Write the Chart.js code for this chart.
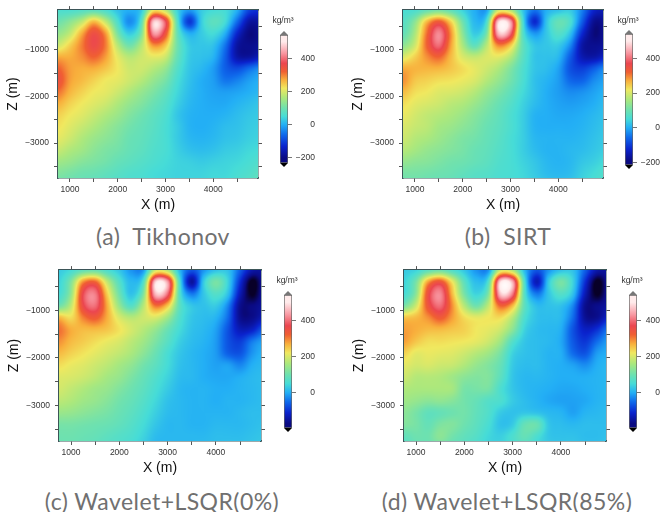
<!DOCTYPE html>
<html>
<head>
<meta charset="utf-8">
<title>Density inversion comparison</title>
<script src="https://cdn.jsdelivr.net/npm/chart.js@4/dist/chart.umd.min.js"></script>
<style>
    html, body { margin: 0; padding: 0; background: #fff; }
    body { position: relative; width: 664px; height: 512px; overflow: hidden; font-family: "Liberation Sans", sans-serif; }
    canvas { position: absolute; filter: blur(0.35px); }
    .caption { position: absolute; width: 300px; text-align: center; font-family: Lato, sans-serif; font-size: 23px; color: #707070; letter-spacing: 0.45px; line-height: 28px; }
    .unit { position: absolute; width: 40px; text-align: center; font-size: 8.5px; color: #333; line-height: 10px; }
</style>
</head>
<body>
<script>
// Grid nodes of the density sections (m)
const xNodes = [750, 1000, 1250, 1500, 1750, 2000, 2250, 2500, 2750, 3000, 3250, 3500, 3750, 4000, 4250, 4500, 4750, 5000];
const zNodes = [-150, -400, -650, -900, -1150, -1400, -1650, -1900, -2150, -2400, -2650, -2900, -3150, -3400, -3650, -3900];

const xTicks = [1000, 1500, 2000, 2500, 3000, 3500, 4000, 4500];
const zTicks = [-500, -1000, -1500, -2000, -2500, -3000, -3500];
const xLabels = [1000, 2000, 3000, 4000];
const zLabels = [-1000, -2000, -3000];

// Density, one row per depth (kg/m3)
const tikhonov = [
    [60, 60, 70, 80, 60, 20, 0, 30, 220, 180, 40, -20, 30, 50, 50, 0, -100, -120],
    [100, 130, 180, 260, 180, 60, -30, 80, 470, 380, 70, -110, 30, 80, 50, -60, -170, -170],
    [140, 180, 270, 350, 280, 110, 30, 120, 430, 340, 90, 0, 30, 50, 0, -130, -200, -185],
    [190, 240, 300, 360, 300, 170, 100, 170, 290, 250, 100, 30, 25, 20, -50, -170, -190, -180],
    [270, 270, 290, 320, 280, 210, 170, 190, 210, 190, 90, 30, 20, 5, -70, -165, -175, -145],
    [320, 280, 270, 270, 250, 220, 190, 190, 170, 140, 70, 25, 10, -15, -70, -90, -60, -30],
    [345, 280, 260, 240, 220, 210, 190, 170, 140, 110, 55, 20, 0, -15, -50, -40, -15, 0],
    [310, 265, 240, 220, 210, 190, 165, 140, 115, 85, 45, 15, 0, -10, -15, -10, 0, 10],
    [270, 240, 220, 205, 190, 165, 140, 120, 95, 70, 35, 10, 0, -5, -5, 5, 15, 25],
    [240, 220, 205, 185, 165, 145, 120, 100, 80, 60, 25, 5, 0, 0, 5, 15, 25, 30],
    [225, 205, 185, 165, 145, 125, 105, 90, 75, 55, 30, 5, 0, 5, 15, 20, 30, 35],
    [210, 190, 165, 145, 130, 115, 95, 85, 70, 55, 30, 10, 5, 10, 20, 25, 35, 40],
    [185, 165, 150, 130, 115, 105, 90, 80, 65, 55, 35, 20, 15, 20, 30, 35, 45, 50],
    [150, 140, 125, 115, 105, 90, 80, 70, 60, 50, 40, 35, 30, 35, 40, 45, 55, 65],
    [120, 110, 100, 95, 85, 75, 65, 60, 50, 45, 40, 40, 40, 45, 45, 55, 65, 80],
    [100, 95, 90, 80, 75, 65, 60, 55, 50, 45, 40, 40, 40, 45, 50, 60, 75, 90]
];
const sirt = [
    [55, 60, 90, 110, 85, 40, 0, -10, 190, 170, 30, -50, 0, 20, 30, -40, -130, -150],
    [70, 130, 260, 330, 240, 100, 10, 60, 480, 440, 70, -120, 20, 90, 60, -70, -180, -175],
    [85, 160, 310, 420, 290, 130, 30, 110, 460, 400, 80, -20, 25, 70, 20, -120, -195, -175],
    [130, 190, 320, 400, 280, 160, 80, 170, 300, 250, 90, 25, 25, 30, -30, -160, -180, -170],
    [200, 240, 290, 320, 260, 200, 180, 200, 210, 170, 80, 25, 20, 10, -70, -150, -160, -130],
    [270, 265, 265, 265, 250, 230, 210, 190, 165, 120, 65, 25, 15, -10, -80, -100, -70, -30],
    [290, 250, 240, 230, 225, 215, 200, 170, 140, 105, 60, 20, 5, -15, -60, -65, -30, -10],
    [260, 230, 220, 205, 200, 190, 170, 140, 115, 85, 50, 20, 0, -15, -30, -25, -10, 5],
    [230, 210, 200, 190, 175, 165, 145, 120, 95, 70, 40, 15, 0, -10, -15, -10, 0, 15],
    [215, 195, 180, 170, 160, 145, 125, 105, 85, 60, 35, 5, 0, -5, -5, 0, 10, 20],
    [200, 185, 175, 155, 145, 130, 115, 95, 80, 60, 35, 5, 0, 0, 0, 5, 15, 25],
    [190, 170, 160, 145, 130, 115, 105, 90, 75, 55, 35, 10, 5, 5, 5, 10, 20, 30],
    [170, 155, 140, 130, 120, 110, 95, 85, 70, 55, 35, 15, 5, 5, 10, 15, 25, 35],
    [140, 130, 125, 115, 105, 100, 90, 80, 65, 55, 40, 25, 10, 5, 10, 25, 35, 50],
    [110, 110, 105, 100, 95, 85, 75, 70, 60, 55, 45, 30, 15, 10, 15, 35, 50, 65],
    [100, 100, 95, 90, 85, 75, 70, 65, 55, 50, 45, 35, 25, 20, 25, 40, 55, 70]
];
const waveletFull = [
    [30, 50, 85, 95, 60, 25, -20, -15, 190, 170, 10, -70, -20, 20, 20, -60, -140, -150],
    [40, 120, 290, 320, 180, 70, 10, 70, 480, 440, 60, -150, 30, 110, 40, -100, -212, -150],
    [50, 140, 370, 410, 240, 100, 20, 120, 460, 400, 70, -40, 25, 70, 20, -130, -208, -150],
    [100, 180, 360, 400, 270, 140, 70, 170, 310, 250, 80, 25, 20, 30, -30, -160, -170, -150],
    [260, 230, 300, 330, 270, 200, 170, 190, 200, 150, 65, 25, 15, 5, -50, -160, -165, -130],
    [310, 270, 260, 260, 250, 225, 195, 170, 140, 95, 50, 20, 10, -10, -70, -130, -120, -60],
    [290, 260, 245, 230, 215, 200, 175, 150, 115, 75, 35, 15, 5, -15, -70, -90, -40, -10],
    [260, 240, 225, 210, 195, 180, 160, 130, 95, 55, 25, 10, 0, -15, -60, -70, -20, 5],
    [230, 215, 205, 190, 175, 155, 135, 105, 80, 50, 20, 10, 0, -10, -10, -30, 0, 10],
    [205, 200, 190, 175, 155, 140, 115, 90, 65, 40, 15, 10, 0, -5, -5, 0, 10, 15],
    [195, 180, 165, 150, 140, 120, 100, 80, 55, 30, 10, 5, 5, 0, 0, 5, 10, 15],
    [175, 165, 150, 140, 125, 105, 90, 70, 45, 20, 10, 5, 5, 0, 5, 5, 10, 15],
    [145, 140, 130, 120, 110, 95, 80, 60, 35, 15, 10, 5, 5, 5, 5, 10, 15, 15],
    [110, 110, 105, 100, 95, 85, 70, 50, 25, 10, 10, 5, 5, 10, 10, 10, 15, 20],
    [100, 100, 95, 90, 80, 70, 60, 40, 15, 10, 10, 10, 10, 15, 15, 15, 20, 25],
    [95, 95, 90, 80, 70, 65, 50, 30, 10, 10, 10, 10, 15, 15, 20, 20, 25, 30]
];
const waveletSparse = [
    [30, 40, 80, 100, 65, 25, -20, -20, 190, 170, 10, -70, -20, 20, 20, -60, -140, -150],
    [40, 110, 280, 340, 220, 80, 15, 70, 490, 450, 60, -130, 30, 110, 40, -100, -212, -150],
    [50, 130, 350, 420, 260, 110, 40, 120, 470, 410, 70, -40, 25, 70, 20, -130, -208, -150],
    [110, 190, 340, 400, 290, 170, 100, 180, 320, 260, 80, 15, 20, 20, -30, -160, -165, -145],
    [250, 260, 290, 330, 280, 230, 210, 220, 230, 170, 60, 20, 15, 10, -50, -155, -160, -110],
    [280, 270, 260, 260, 250, 240, 220, 210, 190, 130, 40, 15, 10, 0, -70, -120, -100, -40],
    [280, 250, 230, 230, 225, 220, 210, 190, 150, 70, 25, 15, 10, -5, -65, -95, -50, -10],
    [240, 210, 215, 210, 205, 190, 170, 150, 110, 40, 20, 15, 5, 0, -50, -70, -15, 0],
    [210, 195, 200, 190, 185, 165, 140, 120, 90, 30, 15, 15, 5, 0, -10, -25, 0, 10],
    [190, 170, 170, 165, 150, 130, 120, 120, 80, 25, 10, 10, 5, 0, 0, 0, 5, 10],
    [165, 160, 160, 160, 155, 110, 110, 110, 60, 25, 10, 5, 0, -5, -5, 0, 5, 10],
    [150, 140, 130, 135, 125, 105, 90, 70, 60, 30, 15, 5, -5, -10, -10, -5, 5, 10],
    [130, 110, 85, 90, 100, 105, 85, 65, 30, 20, 25, 20, 10, 5, -10, 5, 10, 15],
    [120, 110, 90, 115, 120, 100, 80, 55, 20, 30, 90, 95, 25, 15, 10, 15, 15, 15],
    [85, 100, 100, 130, 105, 85, 70, 45, 35, 60, 90, 60, 25, 20, 20, 15, 15, 20],
    [70, 90, 90, 100, 85, 75, 55, 40, 40, 50, 60, 40, 30, 25, 25, 20, 20, 25]
];

// Colour scale, value then rgb
const scaleValues = [-240, -200, -130, -60, 0, 50, 100, 160, 220, 270, 320, 370, 430, 500, 560];
const scaleColors = [
    [8, 0, 40], [10, 10, 130], [10, 35, 205], [15, 105, 235], [35, 175, 245], [70, 220, 215], [110, 225, 175],
    [170, 232, 125], [240, 232, 95], [248, 175, 60], [240, 95, 50], [235, 70, 80], [248, 150, 160], [255, 235, 235], [255, 255, 255]
];

const panels = [
    { name: 'Tikhonov', grid: tikhonov, left: 0, top: 0, plotW: 200, plotH: 170, low: -240, caption: '(a)  Tikhonov', captionX: 163, captionY: 236,
      barLeft: 280, barTop: 32, barH: 134, barMax: 540, barMin: -230, barTicks: [-200, 0, 200, 400], labelW: 27, unitX: 283, unitY: 20 },
    { name: 'SIRT', grid: sirt, left: 345, top: 0, plotW: 200, plotH: 170, low: -230, caption: '(b)  SIRT', captionX: 508, captionY: 236,
      barLeft: 625, barTop: 31, barH: 137, barMax: 540, barMin: -215, barTicks: [-200, 0, 200, 400], labelW: 27, unitX: 628, unitY: 20 },
    { name: 'Wavelet+LSQR(0%)', grid: waveletFull, left: 1, top: 260, plotW: 202, plotH: 173, low: -205, caption: '(c) Wavelet+LSQR(0%)', captionX: 162, captionY: 501,
      barLeft: 284, barTop: 292, barH: 139, barMax: 540, barMin: -195, barTicks: [0, 200, 400], labelW: 23, unitX: 287, unitY: 280 },
    { name: 'Wavelet+LSQR(85%)', grid: waveletSparse, left: 346, top: 260, plotW: 202, plotH: 173, low: -205, caption: '(d) Wavelet+LSQR(85%)', captionX: 507, captionY: 501,
      barLeft: 629, barTop: 292, barH: 139, barMax: 540, barMin: -195, barTicks: [0, 200, 400], labelW: 23, unitX: 632, unitY: 280 }
];

const frameColor = '#3b5558';
const textColor = '#333333';

function colorFor(value, low) {
    const v = value < 0 ? value * (-240 / low) : value;
    if (v <= scaleValues[0]) return scaleColors[0];
    for (let i = 1; i < scaleValues.length; i++) {
        if (v <= scaleValues[i]) {
            const t = (v - scaleValues[i - 1]) / (scaleValues[i] - scaleValues[i - 1]);
            const a = scaleColors[i - 1], b = scaleColors[i];
            return [a[0] + (b[0] - a[0]) * t, a[1] + (b[1] - a[1]) * t, a[2] + (b[2] - a[2]) * t];
        }
    }
    return scaleColors[scaleColors.length - 1];
}

// Catmull-Rom weights, used to shade between the grid nodes
function cubic(p0, p1, p2, p3, t) {
    return p1 + 0.5 * t * (p2 - p0 + t * (2 * p0 - 5 * p1 + 4 * p2 - p3 + t * (3 * (p1 - p2) + p3 - p0)));
}

function sampleGrid(grid, x, z) {
    const fx = (x - xNodes[0]) / (xNodes[1] - xNodes[0]);
    const fz = (zNodes[0] - z) / (zNodes[0] - zNodes[1]);
    const ix = Math.floor(fx), iz = Math.floor(fz);
    const row = (r) => {
        const line = grid[Math.max(0, Math.min(zNodes.length - 1, r))];
        const at = (c) => line[Math.max(0, Math.min(xNodes.length - 1, c))];
        return cubic(at(ix - 1), at(ix), at(ix + 1), at(ix + 2), fx - ix);
    };
    return cubic(row(iz - 1), row(iz), row(iz + 1), row(iz + 2), fz - iz);
}

// Paints the density grid behind the axes, pixel by pixel through the chart scales
const sectionPlugin = {
    id: 'section',
    beforeDatasetsDraw(chart) {
        const { ctx, chartArea, scales } = chart;
        const { grid, low } = chart.options.plugins.section;
        const left = Math.round(chartArea.left), top = Math.round(chartArea.top);
        const w = Math.round(chartArea.width), h = Math.round(chartArea.height);
        const img = ctx.createImageData(w, h);
        for (let py = 0; py < h; py++) {
            const z = scales.y.getValueForPixel(top + py + 0.5);
            for (let px = 0; px < w; px++) {
                const x = scales.x.getValueForPixel(left + px + 0.5);
                const c = colorFor(sampleGrid(grid, x, z), low);
                const i = (py * w + px) * 4;
                img.data[i] = c[0];
                img.data[i + 1] = c[1];
                img.data[i + 2] = c[2];
                img.data[i + 3] = 255;
            }
        }
        ctx.putImageData(img, left, top);
    }
};

// Arrow caps at both ends of the colour bar
const capsPlugin = {
    id: 'caps',
    afterDraw(chart) {
        const { ctx, chartArea } = chart;
        const cx = (chartArea.left + chartArea.right) / 2;
        const half = (chartArea.right - chartArea.left) / 2;
        ctx.save();
        ctx.fillStyle = '#777777';
        ctx.beginPath();
        ctx.moveTo(cx - half, chartArea.top);
        ctx.lineTo(cx, chartArea.top - 4);
        ctx.lineTo(cx + half, chartArea.top);
        ctx.fill();
        ctx.fillStyle = '#000000';
        ctx.beginPath();
        ctx.moveTo(cx - half, chartArea.bottom);
        ctx.lineTo(cx, chartArea.bottom + 4);
        ctx.lineTo(cx + half, chartArea.bottom);
        ctx.fill();
        ctx.restore();
    }
};

function addCanvas(left, top, width, height) {
    const canvas = document.createElement('canvas');
    canvas.width = width;
    canvas.height = height;
    canvas.style.left = left + 'px';
    canvas.style.top = top + 'px';
    document.body.appendChild(canvas);
    return canvas;
}

function axisGrid() {
    return { drawOnChartArea: false, drawTicks: true, tickLength: 4, color: '#555555', lineWidth: 1 };
}

function frameBorder() {
    return { display: true, color: frameColor, width: 1.5 };
}

function sectionAxis(position, min, max, ticks, labels, titleText, size) {
    const isMain = position === 'bottom' || position === 'left';
    const axis = {
        type: 'linear',
        position: position,
        min: min,
        max: max,
        z: 1,
        grid: axisGrid(),
        border: frameBorder(),
        afterBuildTicks: (scale) => { scale.ticks = ticks.map((v) => ({ value: v })); },
        afterFit: (scale) => {
            if (scale.isHorizontal()) scale.height = size; else scale.width = size;
        },
        ticks: {
            display: isMain,
            autoSkip: false,
            maxRotation: 0,
            padding: position === 'left' ? 5 : 3,
            color: textColor,
            font: { family: 'Liberation Sans', size: 8.5 },
            callback: (v) => labels.includes(v) ? String(v).replace('-', '\u2212') : ''
        }
    };
    if (titleText) {
        axis.title = {
            display: true,
            text: titleText,
            color: '#111111',
            padding: { top: 5, bottom: 4 },
            font: { family: 'Liberation Sans', size: 14 }
        };
    }
    return axis;
}

panels.forEach((panel) => {
    // Section chart
    const points = [];
    panel.grid.forEach((line, r) => {
        line.forEach((v, c) => points.push({ x: xNodes[c], y: zNodes[r], v: v }));
    });
    const sectionCanvas = addCanvas(panel.left, panel.top, panel.plotW + 64, panel.plotH + 48);
    new Chart(sectionCanvas.getContext('2d'), {
        type: 'scatter',
        data: { datasets: [{ label: panel.name, data: points, pointRadius: 0, pointHoverRadius: 0 }] },
        options: {
            responsive: false,
            animation: false,
            events: [],
            layout: { padding: 0 },
            plugins: {
                legend: { display: false },
                tooltip: { enabled: false },
                section: { grid: panel.grid, low: panel.low }
            },
            scales: {
                x: sectionAxis('bottom', 750, 4935, xTicks, xLabels, 'X (m)', 40),
                xTop: sectionAxis('top', 750, 4935, xTicks, [], '', 8),
                y: sectionAxis('left', -3750, -150, zTicks, zLabels, 'Z (m)', 58),
                yRight: sectionAxis('right', -3750, -150, zTicks, [], '', 6)
            }
        },
        plugins: [sectionPlugin]
    });

    // Colour bar chart
    const barCanvas = addCanvas(panel.barLeft, panel.barTop - 6, 8 + panel.labelW, panel.barH + 12);
    new Chart(barCanvas.getContext('2d'), {
        type: 'bar',
        data: {
            labels: ['density'],
            datasets: [{
                data: [[panel.barMin, panel.barMax]],
                barPercentage: 1,
                categoryPercentage: 1,
                borderWidth: 1,
                borderColor: '#666666',
                borderSkipped: false,
                backgroundColor: (context) => {
                    const { chart } = context;
                    if (!chart.chartArea) return '#ffffff';
                    const y = chart.scales.y;
                    const g = chart.ctx.createLinearGradient(0, y.getPixelForValue(panel.barMin), 0, y.getPixelForValue(panel.barMax));
                    scaleValues.forEach((v, i) => {
                        const bar = v < 0 ? v * (-panel.low / 240) : v;
                        const stop = (bar - panel.barMin) / (panel.barMax - panel.barMin);
                        if (stop >= 0 && stop <= 1) {
                            const c = scaleColors[i];
                            g.addColorStop(stop, `rgb(${c[0]}, ${c[1]}, ${c[2]})`);
                        }
                    });
                    return g;
                }
            }]
        },
        options: {
            responsive: false,
            animation: false,
            events: [],
            layout: { padding: { top: 6, bottom: 6 } },
            plugins: { legend: { display: false }, tooltip: { enabled: false } },
            scales: {
                x: { display: false },
                y: {
                    position: 'right',
                    min: panel.barMin,
                    max: panel.barMax,
                    border: { display: false },
                    grid: { drawOnChartArea: false, tickLength: 4, color: '#777777' },
                    afterBuildTicks: (scale) => { scale.ticks = panel.barTicks.map((v) => ({ value: v })); },
                    afterFit: (scale) => { scale.width = panel.labelW; },
                    ticks: {
                        crossAlign: 'far',
                        padding: 4,
                        color: textColor,
                        font: { family: 'Liberation Sans', size: 8.5 },
                        callback: (v) => String(v).replace('-', '\u2212')
                    }
                }
            }
        },
        plugins: [capsPlugin]
    });

    // Unit above the bar and caption below the panel
    const unit = document.createElement('div');
    unit.className = 'unit';
    unit.textContent = 'kg/m\u00b3';
    unit.style.left = (panel.unitX - 20) + 'px';
    unit.style.top = (panel.unitY - 5) + 'px';
    document.body.appendChild(unit);

    const caption = document.createElement('div');
    caption.className = 'caption';
    caption.textContent = panel.caption;
    caption.style.whiteSpace = 'pre';
    caption.style.left = (panel.captionX - 150) + 'px';
    caption.style.top = (panel.captionY - 14) + 'px';
    document.body.appendChild(caption);
});
</script>
</body>
</html>
